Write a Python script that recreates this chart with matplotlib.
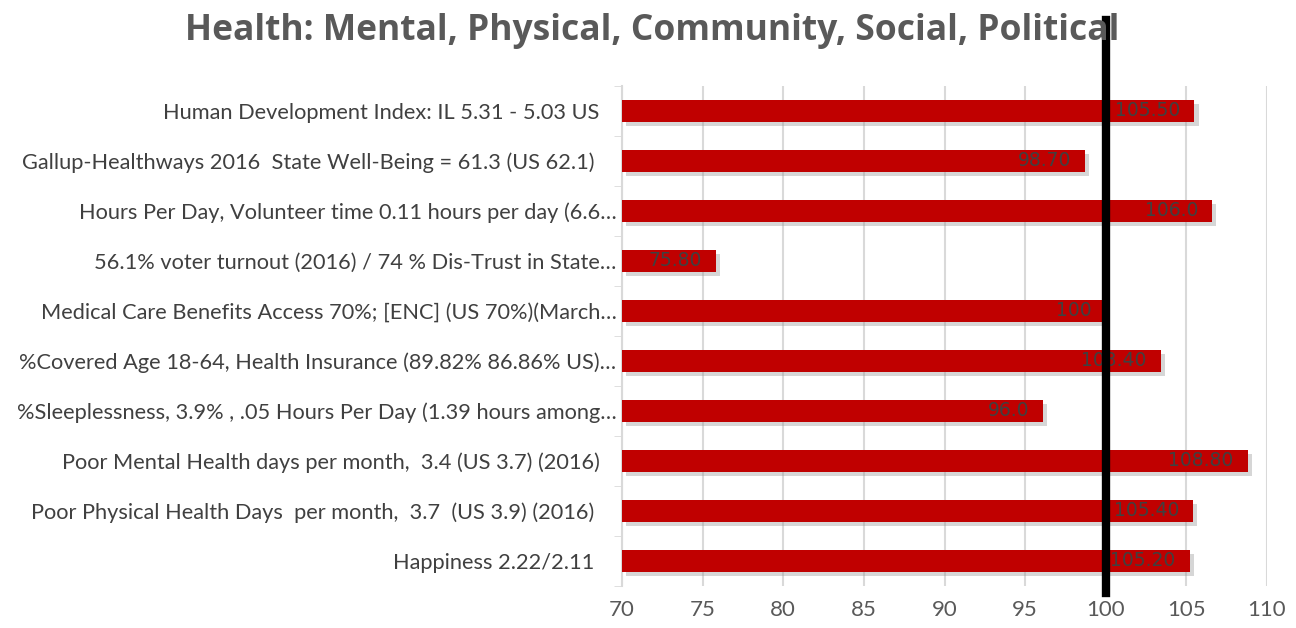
import matplotlib.pyplot as plt
import matplotlib.patheffects as pe

# dane (od dolu do gory)
categories = [
    "Happiness 2.22/2.11    ",
    "Poor Physical Health Days  per month,  3.7  (US 3.9) (2016)    ",
    "Poor Mental Health days per month,  3.4 (US 3.7) (2016)   ",
    "%Sleeplessness, 3.9% , .05 Hours Per Day (1.39 hours among\u2026",
    "%Covered Age 18-64, Health Insurance (89.82% 86.86% US)\u2026",
    "Medical Care Benefits Access 70%; [ENC] (US 70%)(March\u2026",
    "56.1% voter turnout (2016) / 74 % Dis-Trust in State\u2026",
    "Hours Per Day, Volunteer time 0.11 hours per day (6.6\u2026",
    "Gallup-Healthways 2016  State Well-Being = 61.3 (US 62.1)    ",
    "Human Development Index: IL 5.31 - 5.03 US   ",
]
values = [105.2, 105.4, 108.8, 96.1, 103.4, 100.0, 75.8, 106.6, 98.7, 105.5]
value_labels = ["105.20", "105.40", "108.80", "96.0", "103.40", "100",
                "75.80", "106.0", "98.70", "105.50"]
xticks = [70, 75, 80, 85, 90, 95, 100, 105, 110]
reference = 100

fig = plt.figure(figsize=(12.96, 6.28), dpi=100)
ax = fig.add_axes([0.48, 0.0669, 0.4976, 0.7962])

ypos = list(range(len(categories)))
bars = ax.barh(ypos, [v - 70 for v in values], left=70, height=0.44,
               color="#c00000", zorder=3)
for b in bars:
    b.set_path_effects([pe.SimplePatchShadow(offset=(3, -3), shadow_rgbFace="#999999", alpha=0.4),
                        pe.Normal()])

# etykiety wartosci
for y, v, lab in zip(ypos, values, value_labels):
    ax.annotate(lab, xy=(v, y), xytext=(-10, 0), textcoords="offset points",
                ha="right", va="center", fontsize=13.5, color="#404040",
                family="DejaVu Sans", zorder=5)

ax.axvline(reference, ymin=-0.014, ymax=1.132, color="black", lw=6,
           clip_on=False, zorder=6)

ax.set_xlim(70, 110)
ax.set_ylim(-0.5, len(categories) - 0.5)
ax.set_xticks(xticks)
ax.set_yticks(ypos)
ax.set_yticklabels(categories, fontsize=15.7, color="#404040", family="Lato")
ax.set_yticks([i + 0.5 for i in range(-1, len(categories))], minor=True)
ax.tick_params(axis="y", which="major", length=0, pad=4)
ax.tick_params(axis="y", which="minor", length=6, color="#d9d9d9")
ax.tick_params(axis="x", length=0, labelsize=16, labelcolor="#595959", pad=10)
for t in ax.get_xticklabels():
    t.set_family("Lato")
ax.grid(axis="x", color="#d9d9d9", lw=1.5, zorder=0)
for s in ["top", "right", "bottom"]:
    ax.spines[s].set_visible(False)
ax.spines["left"].set_color("#d9d9d9")
ax.spines["left"].set_linewidth(1.5)

fig.suptitle("Health: Mental, Physical, Community, Social, Political",
             x=0.503, y=0.95, va="center", fontsize=25.5, fontweight="bold",
             color="#595959", family="Open Sans")

fig.savefig("out.png", dpi=100)
